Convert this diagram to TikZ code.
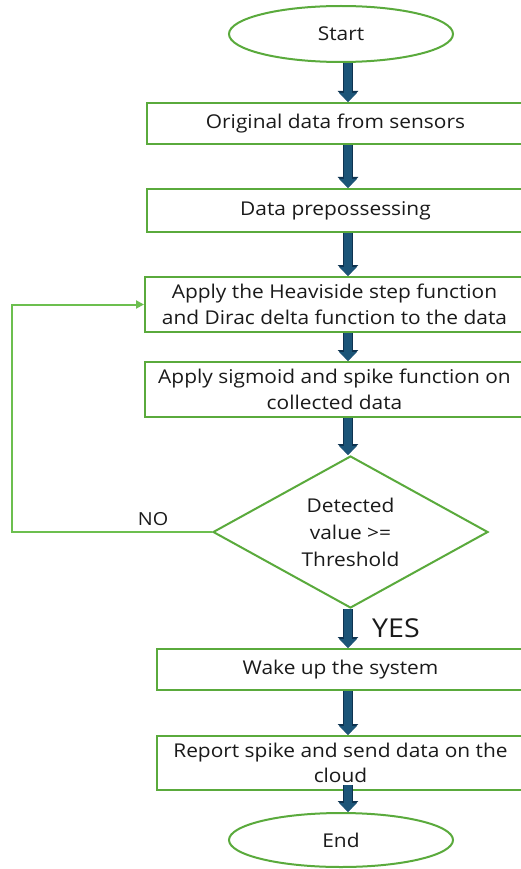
\documentclass[tikz,border=0pt]{standalone}
\usepackage{fontspec}
\setmainfont[FakeStretch=1.1]{Open Sans}
\usetikzlibrary{arrows.meta,shapes.geometric}
\definecolor{gr}{HTML}{5AAA3C}
\definecolor{grl}{HTML}{6CBF4F}
\definecolor{afill}{HTML}{1C5578}
\definecolor{aline}{HTML}{0E3350}
\definecolor{txt}{HTML}{1A1A1A}
\tikzset{
  box/.style={draw=gr, line width=2pt, fill=white, rectangle, inner sep=0pt, align=center, text=txt, font=\fontsize{19}{25.5}\selectfont},
  term/.style={draw=gr, line width=2pt, fill=white, ellipse, inner sep=0pt, minimum width=224pt, text=txt, font=\fontsize{19}{22}\selectfont},
  decision/.style={draw=gr, line width=2pt, fill=white, diamond, inner sep=0pt, minimum width=275pt, minimum height=152pt},
  dectext/.style={inner sep=0pt, align=center, text=txt, font=\fontsize{19}{27}\selectfont},
  blockarrow/.style={draw=afill, line width=7.5pt, -{Triangle[width=17pt,length=9pt]},
     preaction={draw=aline, line width=9.5pt, -{Triangle[width=20pt,length=11pt]}}},
  loopline/.style={draw=grl, line width=2pt, -{Triangle[width=8pt,length=8pt]}},
  lbl/.style={text=txt, inner sep=0pt}
}
\begin{document}
\begin{tikzpicture}[x=1pt,y=-1pt]
\useasboundingbox (0,0) rectangle (521,869);
\clip (0,0) rectangle (521,869);
\fill[white] (0,0) rectangle (521,869);
\coordinate (ax) at (348,0);
\node[term, minimum height=56pt] (start) at (341,34) {Start};
\node[box, minimum width=377pt, minimum height=41pt] (b1) at (335.5,123.5) {Original data from sensors};
\node[box, minimum width=377pt, minimum height=43pt] (b2) at (335.5,210.5) {Data prepossessing};
\node[box, minimum width=379pt, minimum height=55pt] (b3) at (334.5,304.5) {Apply the Heaviside step function\\and Dirac delta function to the data};
\node[box, minimum width=379pt, minimum height=55pt] (b4) at (334.5,389.5) {Apply sigmoid and spike function on\\collected data};
\node[decision] (dec) at (350.5,532) {};
\node[dectext] (dect) at (dec.center) {Detected\\value >=\\Threshold};
\node[box, minimum width=367pt, minimum height=41pt] (b5) at (340.5,669.5) {Wake up the system};
\node[box, minimum width=367pt, minimum height=54pt] (b6) at (340.5,763) {Report spike and send data on the\\cloud};
\node[term, minimum height=54pt] (end) at (341,840) {End};
\coordinate (lc) at (12,304.5);
\node[lbl, font=\fontsize{18}{22}\selectfont] (no) at (153,519) {NO};
\node[lbl, font=\fontsize{26}{30}\selectfont] (yes) at (396,628) {YES};
\draw[blockarrow] (start.south -| ax) -- (b1.north -| ax);
\draw[blockarrow] (b1.south -| ax) -- (b2.north -| ax);
\draw[blockarrow] (b2.south -| ax) -- (b3.north -| ax);
\draw[blockarrow] (b3.south -| ax) -- (b4.north -| ax);
\draw[blockarrow] (b4.south -| ax) -- (dec.north -| ax);
\draw[blockarrow] (dec.south -| ax) -- (b5.north -| ax);
\draw[blockarrow] (b5.south -| ax) -- (b6.north -| ax);
\draw[blockarrow] ([yshift=6pt]b6.south -| ax) -- (end.north -| ax);
\draw[loopline] (dec.west) -| (lc) -- (b3.west);
\end{tikzpicture}
\end{document}
